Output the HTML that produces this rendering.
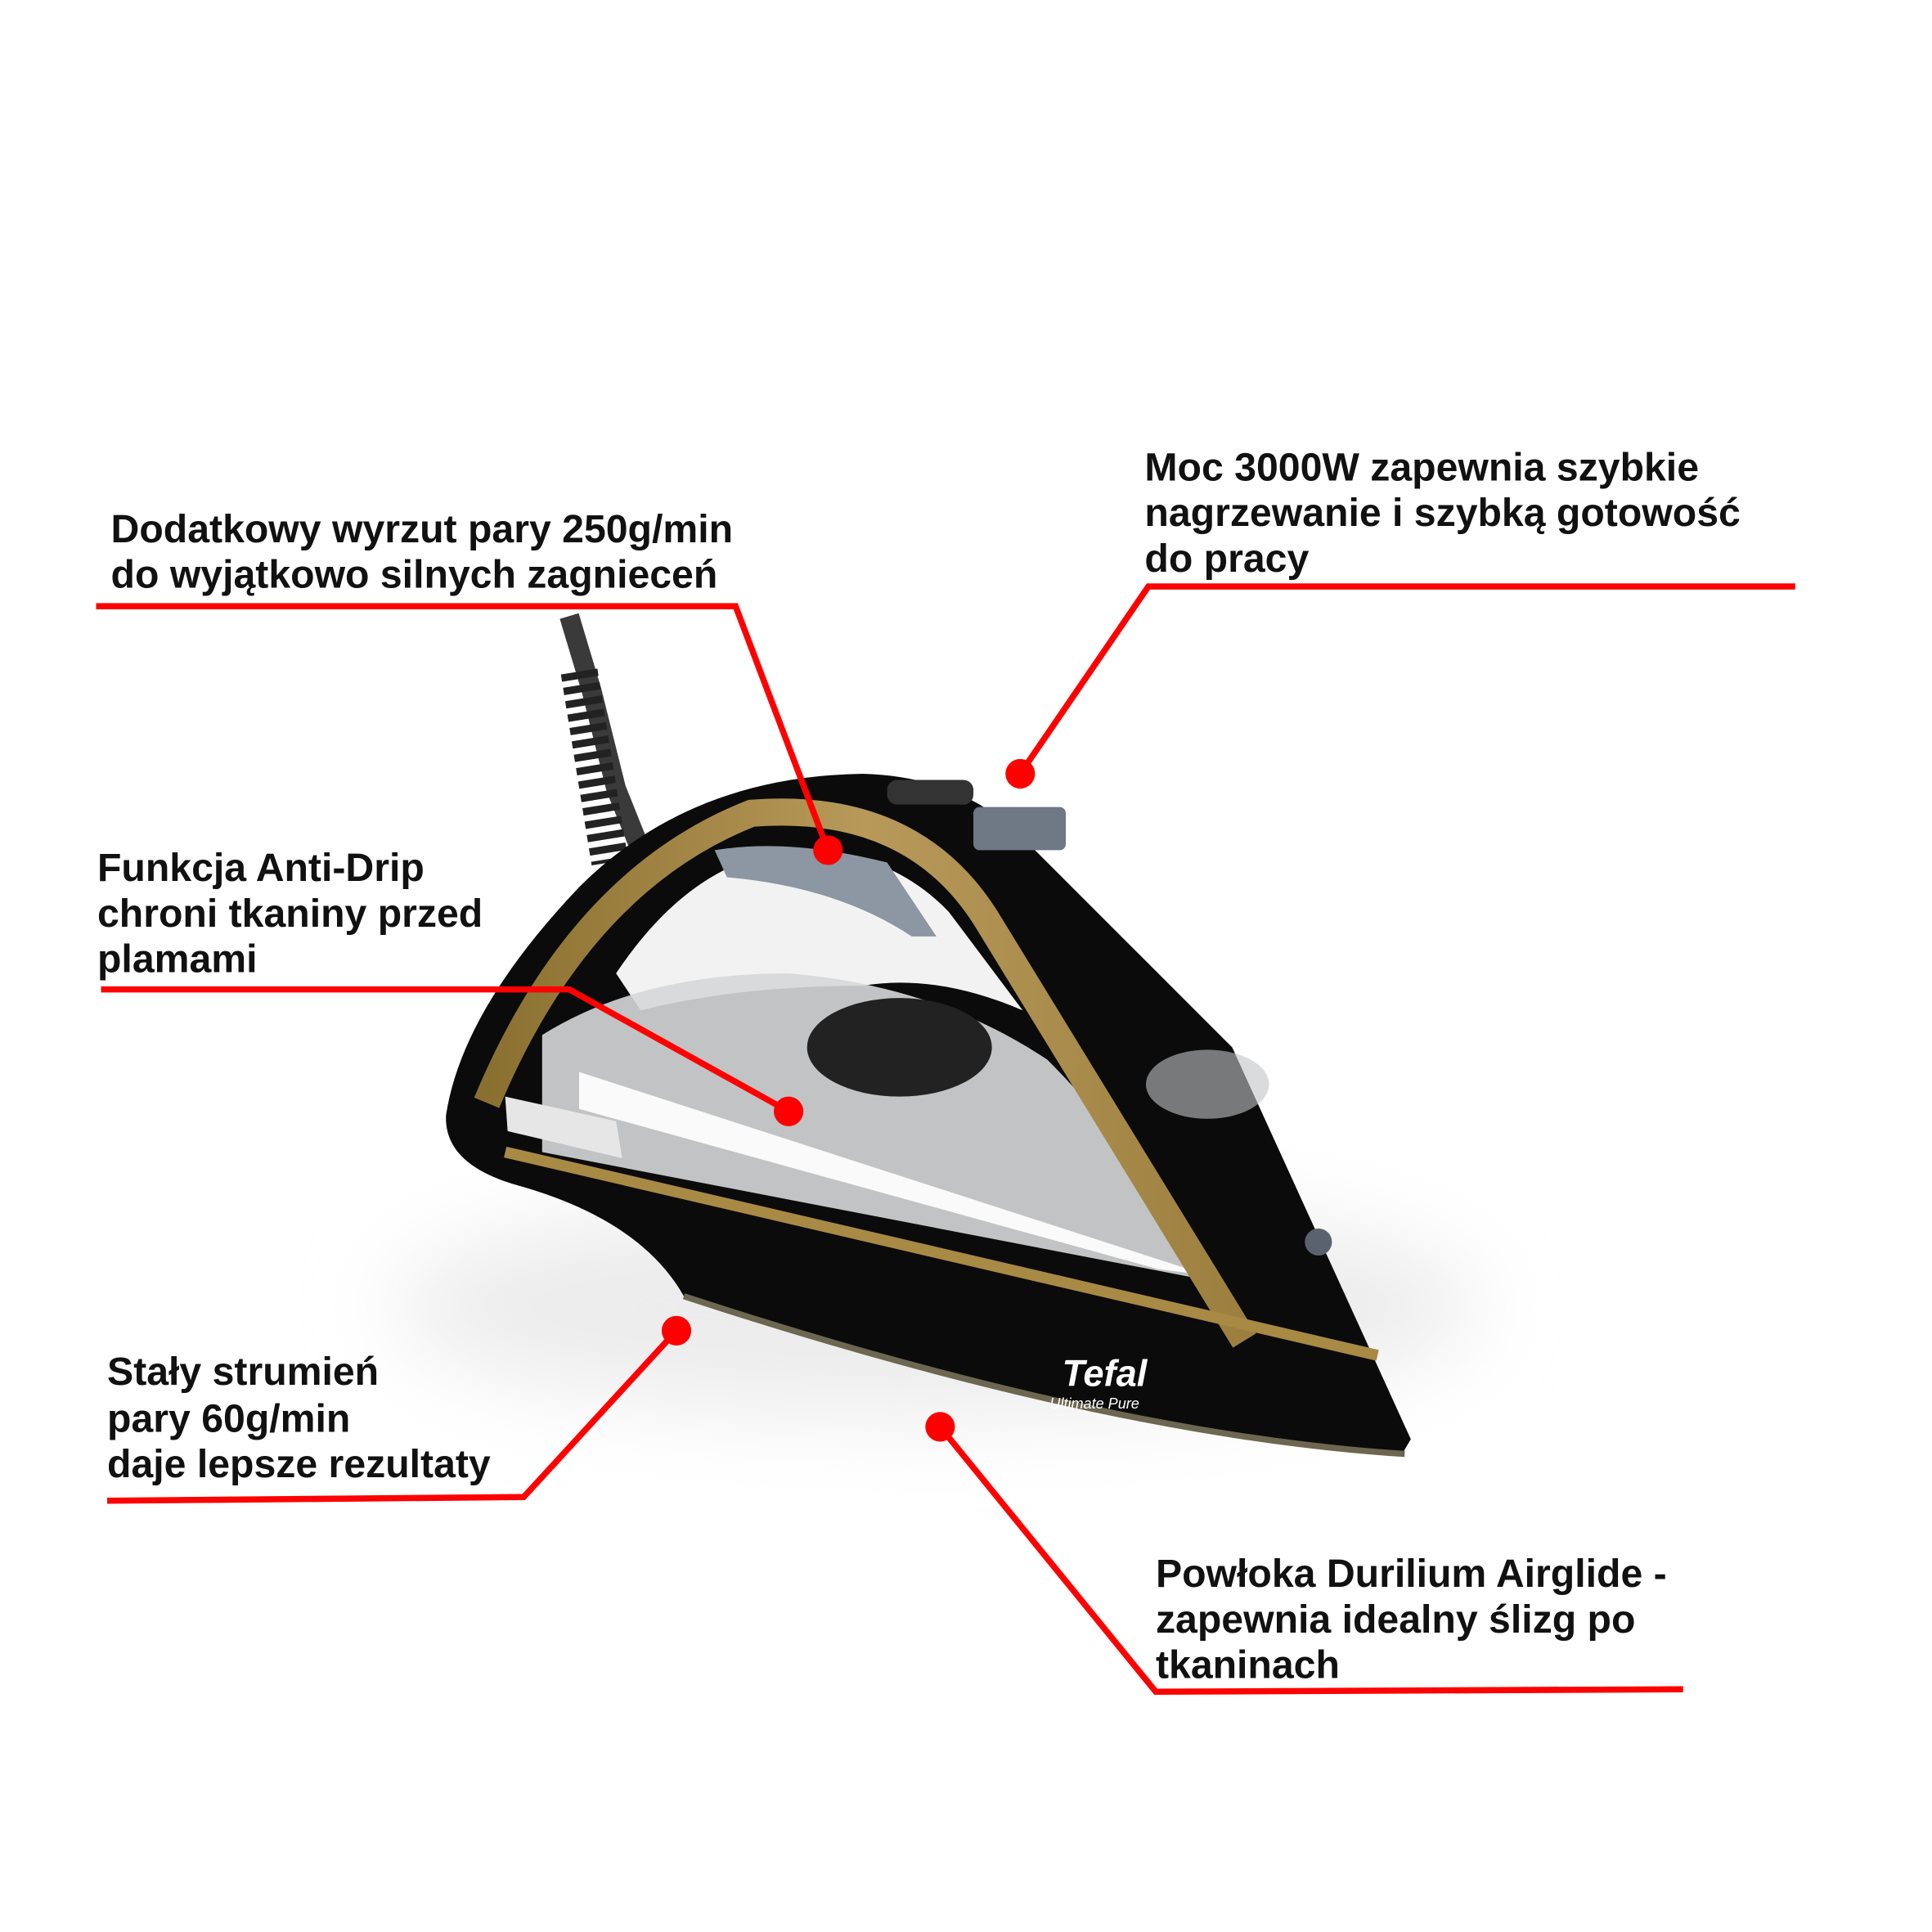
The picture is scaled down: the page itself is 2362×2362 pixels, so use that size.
<!DOCTYPE html>
<html><head><meta charset="utf-8"><style>
html,body{margin:0;padding:0;background:#fff}
svg{display:block}
text{font-family:"Liberation Sans",Arial,sans-serif;font-weight:bold;font-size:32px;fill:#111}
</style></head><body>
<svg width="2362" height="2362" viewBox="0 0 1568 1568" xmlns="http://www.w3.org/2000/svg">
<defs>
<filter id="b" x="-50%" y="-50%" width="200%" height="200%"><feGaussianBlur stdDeviation="35"/></filter>
<linearGradient id="g" x1="0" y1="0" x2="1" y2="0"><stop offset="0" stop-color="#8a7030"/><stop offset="0.5" stop-color="#b8995a"/><stop offset="1" stop-color="#9c7f3e"/></linearGradient>
</defs>
<rect width="1568" height="1568" fill="#fff"/>
<!-- shadow -->
<ellipse cx="760" cy="1060" rx="440" ry="90" fill="#ececec" filter="url(#b)"/>
<!-- cord -->
<path d="M462,500 L480,560 L500,640 L520,690" stroke="#3a3a3a" stroke-width="16" fill="none"/>
<path d="M470,545 L495,700" stroke="#222" stroke-width="30" fill="none" stroke-dasharray="6 5"/>
<!-- body -->
<path d="M362,905 Q375,820 470,720 Q560,630 700,628 Q780,630 830,680 L1000,850 L1145,1168 L1138,1180 Q900,1165 555,1052 Q520,990 420,962 Q360,945 362,905 Z" fill="#0b0b0b"/>
<path d="M555,1052 Q900,1165 1140,1180" stroke="#6d6650" stroke-width="5" fill="none"/>
<!-- handle opening -->
<path d="M500,790 Q560,700 640,690 Q720,688 770,740 L830,820 Q760,790 700,800 Q600,800 520,820 Z" fill="#f2f2f2"/>
<path d="M580,690 Q640,680 720,700 L760,760 L740,760 Q680,720 590,712 Z" fill="#8d96a3"/>
<!-- water tank -->
<path d="M440,840 Q520,790 640,790 Q760,800 850,860 Q920,930 985,1040 L440,935 Z" fill="#d6d7d8" opacity="0.9"/>
<path d="M470,870 L980,1035 L940,1030 L470,900 Z" fill="#fafafa"/>
<ellipse cx="730" cy="850" rx="75" ry="40" fill="#222"/>
<!-- gold stripes -->
<path d="M395,895 Q470,715 610,660 Q740,650 800,745 L1010,1088" stroke="url(#g)" stroke-width="22" fill="none"/>
<path d="M410,935 L1118,1100" stroke="#a88a45" stroke-width="9" fill="none"/>
<path d="M410,890 L500,910 L505,940 L412,918 Z" fill="#e6e6e6"/>
<!-- top controls -->
<rect x="790" y="655" width="75" height="35" rx="5" fill="#6f7885"/>
<rect x="720" y="633" width="70" height="20" rx="8" fill="#333"/>
<ellipse cx="980" cy="880" rx="50" ry="28" fill="#bfc3c7" opacity="0.6"/>
<circle cx="1070" cy="1008" r="11" fill="#5a6270"/>
<text x="862" y="1125" style="font-size:30px;fill:#fff;font-style:italic">Tefal</text>
<text x="852" y="1143" style="font-size:12px;fill:#fff;font-weight:normal;font-style:italic">Ultimate Pure</text>
<!-- callouts -->
<g stroke="#ff0000" stroke-width="5" fill="none">
<polyline points="78,492 597,492 672,690"/>
<polyline points="1457,476 932,476 828,628"/>
<polyline points="82,803 462,803 640,902"/>
<polyline points="87,1218 425,1215 549,1080"/>
<polyline points="1366,1371 938,1373 763,1158"/>
</g>
<g fill="#ff0000">
<circle cx="672" cy="690" r="12"/>
<circle cx="828" cy="628" r="12"/>
<circle cx="640" cy="902" r="12"/>
<circle cx="549" cy="1080" r="12"/>
<circle cx="763" cy="1158" r="12"/>
</g>
<text x="90" y="440">Dodatkowy wyrzut pary 250g/min</text>
<text x="90" y="477">do wyjątkowo silnych zagnieceń</text>
<text x="929" y="390">Moc 3000W zapewnia szybkie</text>
<text x="929" y="427">nagrzewanie i szybką gotowość</text>
<text x="929" y="464">do pracy</text>
<text x="79" y="715">Funkcja Anti-Drip</text>
<text x="79" y="752">chroni tkaniny przed</text>
<text x="79" y="789">plamami</text>
<text x="87" y="1124">Stały strumień</text>
<text x="87" y="1162">pary 60g/min</text>
<text x="87" y="1199">daje lepsze rezultaty</text>
<text x="938" y="1288">Powłoka Durilium Airglide -</text>
<text x="938" y="1325">zapewnia idealny ślizg po</text>
<text x="938" y="1362">tkaninach</text>
</svg>
</body></html>
